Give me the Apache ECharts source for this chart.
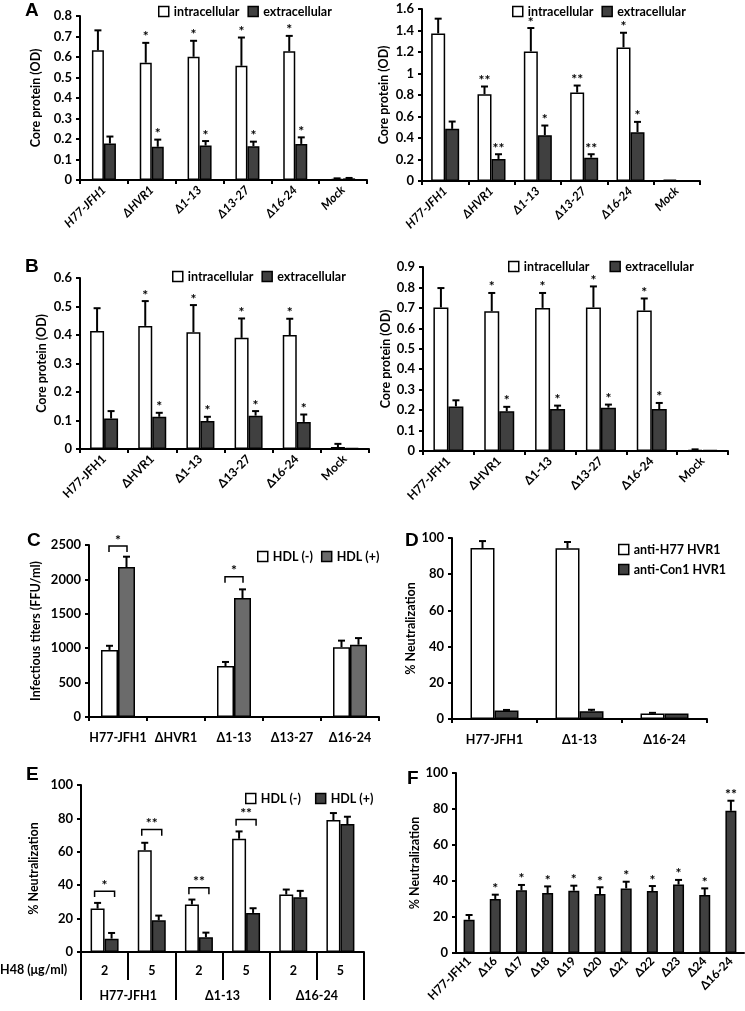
<!DOCTYPE html>
<html><head><meta charset="utf-8">
<script src="https://cdn.jsdelivr.net/npm/echarts@6/dist/echarts.min.js"></script>
<style>html,body{margin:0;padding:0;background:#fff}#c{width:745px;height:1011px}</style>
</head><body><div id="c"></div>
<script>
// ---------- DATA ----------
const catsAB = ['H77-JFH1','ΔHVR1','Δ1-13','Δ13-27','Δ16-24','Mock'];
// Panel A left
const aL_intra = [0.633,0.572,0.601,0.557,0.628,0.005];
const aL_intraErr = [0.097,0.097,0.078,0.138,0.075,0.003];
const aL_extra = [0.178,0.162,0.168,0.165,0.176,0.008];
const aL_extraErr = [0.034,0.035,0.022,0.022,0.032,0.002];
const aL_stars = ['','*','*','*','*',''];
// Panel A right
const aR_intra = [1.373,0.808,1.205,0.823,1.243,0.012];
const aR_intraErr = [0.137,0.071,0.218,0.065,0.136,0];
const aR_extra = [0.485,0.205,0.426,0.217,0.454,0.006];
const aR_extraErr = [0.068,0.044,0.09,0.032,0.096,0];
const aR_stars = ['','**','*','**','*',''];
// Panel B left
const bL_intra = [0.414,0.432,0.41,0.39,0.40,0.007];
const bL_intraErr = [0.08,0.087,0.095,0.068,0.057,0.011];
const bL_extra = [0.107,0.113,0.098,0.117,0.095,0.004];
const bL_extraErr = [0.026,0.014,0.015,0.016,0.026,0];
const bL_stars = ['','*','*','*','*',''];
// Panel B right
const bR_intra = [0.702,0.684,0.70,0.702,0.687,0.006];
const bR_intraErr = [0.095,0.089,0.073,0.103,0.059,0.002];
const bR_extra = [0.218,0.194,0.205,0.212,0.205,0.005];
const bR_extraErr = [0.03,0.022,0.017,0.015,0.03,0];
const bR_stars = ['','*','*','*','*',''];
// Panel C
const catsC = ['H77-JFH1','ΔHVR1','Δ1-13','Δ13-27','Δ16-24'];
const c_minus = [975,0,740,0,1015];
const c_minusErr = [60,0,60,0,95];
const c_plus = [2180,0,1730,0,1050];
const c_plusErr = [150,0,125,0,97];
const c_brackets = [[0,2400,2485,'*'],[2,1950,2040,'*']];
// Panel D
const catsD = ['H77-JFH1','Δ1-13','Δ16-24'];
const d_h77 = [94.5,94.3,3.0];
const d_h77Err = [3.8,3.5,0.4];
const d_con1 = [4.7,4.3,3.0];
const d_con1Err = [0.3,0.8,0];
// Panel E
const doseE = ['2','5','2','5','2','5'];
const groupE = ['H77-JFH1','Δ1-13','Δ16-24'];
const e_minus = [26,61,28.4,67.8,34.4,79];
const e_minusErr = [3.4,4.4,3,4.4,3,4.2];
const e_plus = [8,19,8.8,23.4,32.8,76.6];
const e_plusErr = [3.4,2.8,2.8,2.8,3.8,4.4];
const e_brackets = [[0,33,36.4,'*'],[1,69.6,73.4,'**'],[2,34.6,38.4,'**'],[3,75.6,79.4,'**']];
// Panel F
const catsF = ['H77-JFH1','Δ16','Δ17','Δ18','Δ19','Δ20','Δ21','Δ22','Δ23','Δ24','Δ16-24'];
const f_vals = [18.5,30,34.8,33.3,34.6,32.8,35.9,34.4,38,32.2,79];
const f_err = [2.6,2.4,3,3.7,2.8,3.7,3.7,2.8,2.6,3.7,5.6];
const f_stars = ['','*','*','*','*','*','*','*','*','*','**'];

// ---------- STYLE / HELPERS ----------
const FONT = 'Lato';
const DARK = '#404040', MID = '#6b6b6b', WHITE = '#ffffff';
const AX = {color:'#000', width:2};
const txt = (size, extra) => Object.assign({fontFamily:FONT, fontWeight:'bold', fontSize:size, color:'#000'}, extra||{});

function yAx(gi, max, interval, name, gap) {
  return {type:'value', gridIndex:gi, min:0, max, interval, name, nameLocation:'middle', nameGap:gap,
    nameTextStyle:txt(12.5),
    axisLine:{show:true, lineStyle:AX}, axisTick:{show:true, length:4, lineStyle:AX},
    splitLine:{show:false}, axisLabel:txt(13, {margin:8, formatter: v => String(v)})};
}
function xAx(gi, data, label, tick) {
  return {type:'category', gridIndex:gi, data, position:'bottom',
    axisLine:{show:true, onZero:false, lineStyle:AX},
    axisTick:Object.assign({show:true, length:4, lineStyle:AX}, tick||{}),
    axisLabel:Object.assign(txt(12, {interval:0}), label||{})};
}
function bar(name, xi, yi, data, color, width) {
  return {type:'bar', name, xAxisIndex:xi, yAxisIndex:yi, data, barWidth:width, barGap:'0%',
    itemStyle:{color, borderColor:'#000', borderWidth:1.5}, silent:true, animation:false, z:2};
}
function err(xi, yi, vals, errs, stars, offset) {
  return {type:'custom', xAxisIndex:xi, yAxisIndex:yi, z:5, animation:false, silent:true,
    data: vals.map((v,i)=>[i, v, errs[i]]),
    renderItem: (params, api) => {
      const i = api.value(0), v = api.value(1), e = api.value(2);
      const p0 = api.coord([i, v]), p1 = api.coord([i, v + e]);
      const cx = p0[0] + offset;
      const ch = [];
      if (e > 0) {
        ch.push({type:'line', shape:{x1:cx, y1:p0[1], x2:cx, y2:p1[1]}, style:{stroke:'#000', lineWidth:2}});
        ch.push({type:'line', shape:{x1:cx-3.5, y1:p1[1], x2:cx+3.5, y2:p1[1]}, style:{stroke:'#000', lineWidth:2}});
      }
      const s = stars ? stars[params.dataIndex] : '';
      if (s) ch.push({type:'text', x:cx, y:p1[1]+1, style:{text:s, align:'center', verticalAlign:'bottom', font:'bold 14px Lato', fill:'#000'}});
      return {type:'group', children:ch};
    }};
}
function brackets(xi, yi, list, dx) {
  return {type:'custom', xAxisIndex:xi, yAxisIndex:yi, z:6, animation:false, silent:true,
    data: list.map(b=>[b[0], b[1], b[2]]),
    renderItem: (params, api) => {
      const b = list[params.dataIndex];
      const pt = api.coord([api.value(0), api.value(2)]), pb = api.coord([api.value(0), api.value(1)]);
      const x1 = pt[0]-dx, x2 = pt[0]+dx;
      return {type:'group', children:[
        {type:'polyline', shape:{points:[[x1,pb[1]],[x1,pt[1]],[x2,pt[1]],[x2,pb[1]]]}, style:{stroke:'#000', lineWidth:1.5, fill:null}},
        {type:'text', x:pt[0], y:pt[1]+1, style:{text:b[3], align:'center', verticalAlign:'bottom', font:'bold 14px Lato', fill:'#000'}}
      ]};
    }};
}
function legend(names, colors, left, top, extra) {
  return Object.assign({
    data: names.map((n,i)=>({name:n, itemStyle:{color:colors[i], borderColor:'#000', borderWidth:1.5}})),
    left, top, icon:'rect', itemWidth:10, itemHeight:10, itemGap:8, selectedMode:false,
    textStyle:txt(12.5)}, extra||{});
}
const letter = (t, x, y) => ({type:'text', left:x, top:y, style:{text:t, font:'bold 19px "Liberation Sans"', fill:'#000'}});

const rotA = {rotate:45, margin:8, fontStyle:'italic'};
const rotB = {rotate:45, margin:8};

const option = {
  animation:false,
  backgroundColor:'#fff',
  grid:[
    {left:80, top:16, width:287, height:164},
    {left:422, top:9, width:278, height:172},
    {left:80, top:278, width:289, height:171},
    {left:423, top:267, width:305, height:184},
    {left:89, top:545, width:290, height:172},
    {left:452, top:538, width:255, height:181},
    {left:81, top:785, width:283, height:167},
    {left:456, top:773, width:288, height:180}
  ],
  xAxis:[
    xAx(0, catsAB, rotA),
    xAx(1, catsAB, rotA),
    xAx(2, catsAB, rotB),
    xAx(3, catsAB, rotB),
    xAx(4, catsC, {margin:14, fontSize:12.5}),
    xAx(5, catsD, {margin:14, fontSize:12.5}),
    xAx(6, doseE, {margin:12, fontSize:12.5}, {length:28}),
    Object.assign(xAx(6, groupE, {margin:37, fontSize:12.5}, {length:48}), {axisLine:{show:false}}),
    xAx(7, catsF, {rotate:45, margin:6}, {show:false})
  ],
  yAxis:[
    yAx(0, 0.8, 0.1, 'Core protein (OD)', 38),
    yAx(1, 1.6, 0.2, 'Core protein (OD)', 32),
    yAx(2, 0.6, 0.1, 'Core protein (OD)', 32),
    yAx(3, 0.9, 0.1, 'Core protein (OD)', 31),
    yAx(4, 2500, 500, 'Infectious titers (FFU/ml)', 47),
    yAx(5, 100, 20, '% Neutralization', 27),
    yAx(6, 100, 20, '% Neutralization', 41),
    yAx(7, 100, 20, '% Neutralization', 27)
  ],
  legend:[
    legend(['intracellular','extracellular'], [WHITE, DARK], 153, 0),
    legend(['intracellular','extracellular'], [WHITE, DARK], 507, 0),
    legend(['intracellular','extracellular'], [WHITE, DARK], 167, 265),
    legend(['intracellular','extracellular'], [WHITE, DARK], 503, 255, {itemGap:20}),
    legend(['HDL (-)','HDL (+)'], [WHITE, MID], 252, 545),
    legend(['anti-H77 HVR1','anti-Con1 HVR1'], [WHITE, DARK], 613, 538, {orient:'vertical', itemGap:7}),
    legend(['HDL (-)','HDL (+)'], [WHITE, DARK], 240, 787, {itemGap:14})
  ],
  graphic:[
    letter('A', 25, 1), letter('B', 25, 257), letter('C', 27, 531),
    letter('D', 405, 531), letter('E', 26, 765), letter('F', 407, 769),
    {type:'text', left:0, top:963, style:{text:'H48 (μg/ml)', font:'bold 12.5px Lato', fill:'#000'}}
  ],
  series:[
    // A left
    bar('intracellular', 0, 0, aL_intra, WHITE, 12),
    bar('extracellular', 0, 0, aL_extra, DARK, 12),
    err(0, 0, aL_intra, aL_intraErr, aL_stars, -6),
    err(0, 0, aL_extra, aL_extraErr, aL_stars, 6),
    // A right
    bar('intracellular', 1, 1, aR_intra, WHITE, 14),
    bar('extracellular', 1, 1, aR_extra, DARK, 14),
    err(1, 1, aR_intra, aR_intraErr, aR_stars, -7),
    err(1, 1, aR_extra, aR_extraErr, aR_stars, 7),
    // B left
    bar('intracellular', 2, 2, bL_intra, WHITE, 14),
    bar('extracellular', 2, 2, bL_extra, DARK, 14),
    err(2, 2, bL_intra, bL_intraErr, bL_stars, -7),
    err(2, 2, bL_extra, bL_extraErr, bL_stars, 7),
    // B right
    bar('intracellular', 3, 3, bR_intra, WHITE, 15),
    bar('extracellular', 3, 3, bR_extra, DARK, 15),
    err(3, 3, bR_intra, bR_intraErr, bR_stars, -7.5),
    err(3, 3, bR_extra, bR_extraErr, bR_stars, 7.5),
    // C
    bar('HDL (-)', 4, 4, c_minus, WHITE, 17),
    bar('HDL (+)', 4, 4, c_plus, MID, 17),
    err(4, 4, c_minus, c_minusErr, null, -8.5),
    err(4, 4, c_plus, c_plusErr, null, 8.5),
    brackets(4, 4, c_brackets, 9),
    // D
    bar('anti-H77 HVR1', 5, 5, d_h77, WHITE, 24),
    bar('anti-Con1 HVR1', 5, 5, d_con1, DARK, 24),
    err(5, 5, d_h77, d_h77Err, null, -12),
    err(5, 5, d_con1, d_con1Err, null, 12),
    // E
    bar('HDL (-)', 6, 6, e_minus, WHITE, 14),
    bar('HDL (+)', 6, 6, e_plus, DARK, 14),
    err(6, 6, e_minus, e_minusErr, null, -7),
    err(6, 6, e_plus, e_plusErr, null, 7),
    brackets(6, 6, e_brackets, 10),
    // F
    bar('F', 8, 7, f_vals, DARK, 11),
    err(8, 7, f_vals, f_err, f_stars, 0)
  ]
};
const chart = echarts.init(document.getElementById('c'), null, {renderer:'canvas'});
chart.setOption(option);
</script></body></html>
